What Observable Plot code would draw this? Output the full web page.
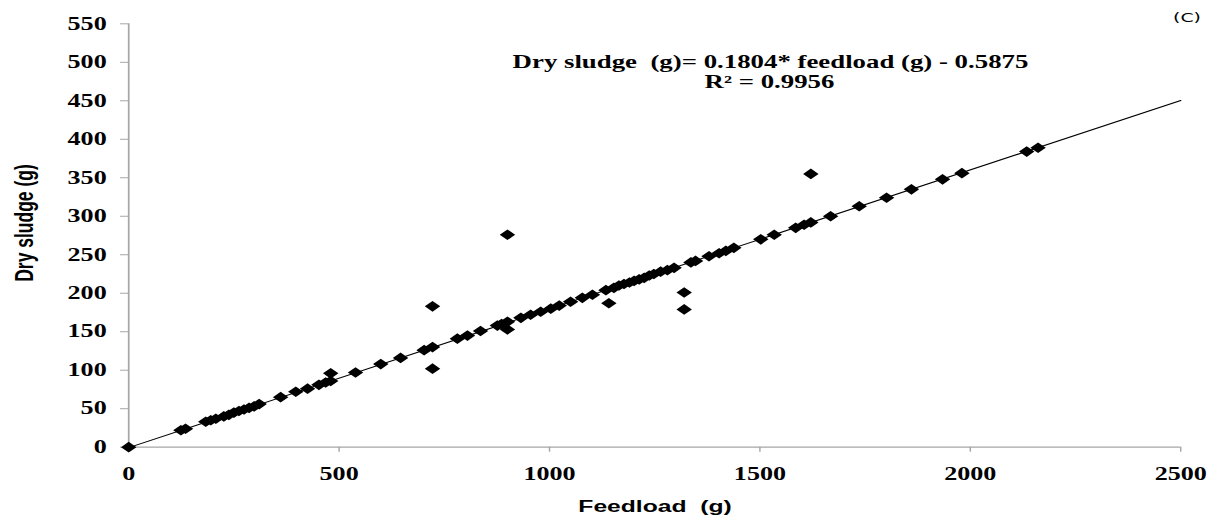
<!DOCTYPE html>
<html>
<head>
<meta charset="utf-8">
<script src="https://cdn.jsdelivr.net/npm/d3@7"></script>
<script src="https://cdn.jsdelivr.net/npm/@observablehq/plot@0.6"></script>
<style>
  html, body { margin: 0; padding: 0; background: white; }
  #chart svg { display: block; }
  #chart g[aria-label="x-axis tick label"] text,
  #chart g[aria-label="y-axis tick label"] text { font-family: "Liberation Serif", "Times New Roman", serif; font-weight: bold; font-size: 18px; fill: black; }
</style>
</head>
<body>
<div id="chart"></div>
<script>
// Feedload (g) and dry sludge (g)
const feedload = [0, 124, 135, 183, 195, 207, 226, 238, 250, 262, 274, 286, 298, 310, 361, 397, 425, 452, 468, 480, 480, 539, 599, 646, 702, 722, 722, 722, 781, 805, 836, 876, 886, 900, 900, 900, 932, 955, 979, 1003, 1023, 1050, 1078, 1102, 1134, 1141, 1153, 1165, 1177, 1190, 1201, 1213, 1225, 1237, 1248, 1264, 1280, 1296, 1320, 1320, 1336, 1347, 1379, 1403, 1419, 1438, 1502, 1534, 1585, 1605, 1621, 1621, 1668, 1736, 1801, 1860, 1934, 1980, 2134, 2161];
const drySludge = [0, 22, 24, 33, 35, 37, 40, 42, 45, 47, 49, 51, 53, 56, 65, 72, 76, 81, 84, 86, 96, 97, 108, 116, 126, 130, 183, 102, 141, 145, 151, 158, 160, 163, 153, 276, 168, 172, 176, 180, 184, 189, 194, 198, 204, 187, 207, 210, 212, 214, 216, 218, 220, 223, 225, 228, 230, 233, 201, 179, 240, 242, 248, 252, 255, 259, 270, 276, 285, 289, 292, 355, 300, 313, 324, 335, 348, 356, 384, 389];

// Trend line (from the printed equation)
const slope = 0.1804;
const intercept = -0.5875;
const fitX = [0, 2500];

const xTicks = [0, 500, 1000, 1500, 2000, 2500];
const yTicks = [0, 50, 100, 150, 200, 250, 300, 350, 400, 450, 500, 550];

const equationText = "Dry sludge  (g)= 0.1804* feedload (g) - 0.5875";
const r2Text = "R\u00b2 = 0.9956";
const xLabel = "Feedload  (g)";
const yLabel = "Dry sludge (g)";
const panelLabel = "(C)";

const points = feedload.map((x, i) => ({x, y: drySludge[i]}));
const fit = fitX.map(x => ({x, y: slope * x + intercept}));

// The reference picture is horizontally stretched; draw narrower then stretch.
const STRETCH = 1.45;
const W = 1223 / STRETCH;
const H = 519;
const left = 128 / STRETCH;
const right = W - 1180 / STRETCH;

const chart = Plot.plot({
  width: W,
  height: H,
  marginLeft: left,
  marginRight: right,
  marginTop: 23.3,
  marginBottom: 72.3,
  x: {domain: [0, 2500]},
  y: {domain: [0, 550]},
  style: {background: "white", color: "black"},
  marks: [
    Plot.ruleY([0], {stroke: "#a6a6a6", strokeWidth: 1.2}),
    Plot.ruleX([0], {stroke: "#a6a6a6", strokeWidth: 1.2}),
    Plot.axisX({ticks: xTicks, tickSize: 5, tickPadding: 15.5, stroke: "#a6a6a6", fill: "black", tickFormat: d => String(d), label: null, fontSize: 18, fontWeight: "bold", fontFamily: "Liberation Serif"}),
    Plot.axisY({ticks: yTicks, tickSize: 5.5, tickPadding: 9.7, stroke: "#a6a6a6", fill: "black", tickFormat: d => String(d), label: null, fontSize: 18, fontWeight: "bold", fontFamily: "Liberation Serif"}),
    Plot.line(fit, {x: "x", y: "y", stroke: "black", strokeWidth: 1}),
    Plot.dot(points, {x: "x", y: "y", symbol: "diamond2", r: 4.8, fill: "black", stroke: null})
  ]
});

const svg = d3.select(chart);
svg.attr("width", 1223).attr("height", H).attr("preserveAspectRatio", "none")
   .style("width", "1223px").style("height", H + "px").style("max-width", "none");

// Equation
svg.append("text")
  .attr("x", 770.5 / STRETCH).attr("y", 68)
  .attr("text-anchor", "middle")
  .style("white-space", "pre")
  .style("font", "bold 18.5px 'Liberation Serif', 'Times New Roman', serif")
  .attr("fill", "black")
  .text(equationText);
svg.append("text")
  .attr("x", 769.5 / STRETCH).attr("y", 88)
  .attr("text-anchor", "middle")
  .style("white-space", "pre")
  .style("font", "bold 18.5px 'Liberation Serif', 'Times New Roman', serif")
  .attr("fill", "black")
  .text(r2Text);

// Axis titles
svg.append("text")
  .attr("x", 655 / STRETCH).attr("y", 512)
  .attr("text-anchor", "middle")
  .style("white-space", "pre")
  .style("font", "bold 17px 'Liberation Sans', Arial, sans-serif")
  .attr("fill", "black")
  .text(xLabel);
svg.append("text")
  .attr("transform", `translate(${22.5}, ${223}) rotate(-90)`)
  .attr("text-anchor", "middle")
  .style("font", "bold 17.5px 'Liberation Sans', Arial, sans-serif")
  .attr("fill", "black")
  .text(yLabel);

// Panel label
svg.append("text")
  .attr("x", 1187 / STRETCH).attr("y", 22)
  .attr("text-anchor", "middle")
  .style("font", "13px 'DejaVu Sans', sans-serif")
  .attr("fill", "black")
  .text(panelLabel);

document.getElementById("chart").appendChild(chart);
</script>
</body>
</html>
